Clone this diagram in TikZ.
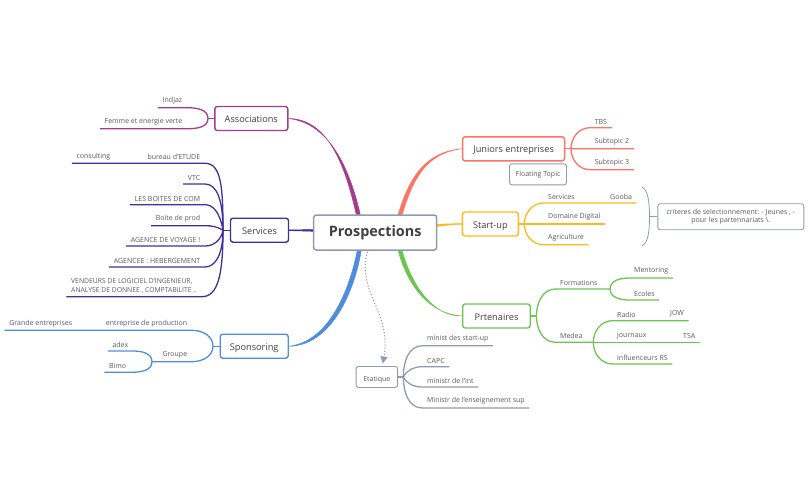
\documentclass[tikz,border=0pt]{standalone}
\usepackage{fontspec}
\setmainfont{Open Sans}
\usetikzlibrary{arrows.meta,backgrounds}
\definecolor{assoccol}{HTML}{A33C8C}
\definecolor{servcol}{HTML}{41309C}
\definecolor{sponscol}{HTML}{4F8DDB}
\definecolor{juncol}{HTML}{FF7264}
\definecolor{startcol}{HTML}{FFB71E}
\definecolor{prtcol}{HTML}{6DC44F}
\definecolor{greycol}{HTML}{8E9BB2}
\definecolor{textcol}{HTML}{5A5A5A}
\tikzset{
    boxed/.style={rectangle,draw,fill=white,rounded corners=2.5,inner sep=0pt},
    topic/.style={boxed,line width=1.4,text height=.95em,text depth=.12em,text=black!75,font=\fontsize{9.2}{11}\selectfont},
    small/.style={boxed,line width=.9,draw=greycol,text=textcol,font=\fontsize{7}{8.5}\selectfont},
    leaf/.style={rectangle,inner xsep=4.6,inner ysep=3.2,text=textcol,font=\fontsize{7}{8.5}\selectfont},
    lleaf/.style={leaf,anchor=south east},
    rleaf/.style={leaf,anchor=south west},
    branch/.style={line width=1.3},
    fan/.style={out looseness=1.6,in looseness=.6},
    taper/.style={line width=.5,line join=round},
    relation/.style={draw=greycol,line width=1.1,dotted,-{Triangle[length=7pt,width=7pt,fill=greycol]}},
    }

\begin{document}
\begin{tikzpicture}[x=1pt,y=-1pt]
	\useasboundingbox (0,0) rectangle (809,501);
	
	\node[topic,draw=greycol,line width=1.5,minimum width=123,minimum height=35,font=\fontsize{14.4}{17}\bfseries] (prosp) at (375.2,232.5) {Prospections};
	
	\node[topic,draw=assoccol,minimum width=73,minimum height=24] (assoc) at (251.3,118.5) {Associations};
	\node[topic,draw=servcol,minimum width=58,minimum height=24] (serv) at (259.5,230.2) {Services};
	\node[topic,draw=sponscol,minimum width=68,minimum height=24] (spons) at (254.2,346.2) {Sponsoring};
	\node[topic,draw=juncol,minimum width=102,minimum height=24] (jun) at (513.6,148.8) {Juniors entreprises};
	\node[topic,draw=startcol,minimum width=56,minimum height=24] (start) at (490.4,224) {Start-up};
	\node[topic,draw=prtcol,minimum width=67.5,minimum height=24] (prt) at (496.5,316) {Prtenaires};
	
	\node[small,minimum width=57,minimum height=21] (floating) at (538,174.3) {Floating Topic};
	\node[small,minimum width=146,minimum height=26,align=center] (crit) at (730.8,216.7) {criteres de selectionnement: - Jeunes , -\\pour les partennariats \textbackslash.};
	\node[small,minimum width=41.5,minimum height=21,text height=.85em,text depth=.05em] (etat) at (376.8,377) {Etatique};
	
	\node[lleaf] (indjaz) at (187,107.7) {Indjaz};
	\node[lleaf] (femme) at (187,128.7) {Femme et energie verte};
	
	\node[lleaf] (etude) at (205,163.3) {bureau d'ETUDE};
	\node[lleaf] (consult) at (115,163.3) {consulting};
	\node[lleaf] (vtc) at (205,184) {VTC};
	\node[lleaf] (boites) at (205,204.7) {LES BOITES DE COM};
	\node[lleaf] (prod) at (205,225.7) {Boite de prod};
	\node[lleaf] (voyage) at (205,246) {AGENCE DE VOYAGE !};
	\node[lleaf] (heberg) at (205,267) {AGENCEE : HEBERGEMENT};
	\node[rleaf,align=left,font=\fontsize{6.8}{8.5}\selectfont] (vendeurs) at (66.4,296.7) {VENDEURS DE LOGICIEL D'INGENIEUR,\\ANALYSE DE DONNEE , COMPTABILITE ..};
	
	\node[lleaf] (product) at (192,330.3) {entreprise de production};
	\node[lleaf] (grande) at (77,330.3) {Grande entreprises};
	\node[lleaf] (groupe) at (192,361.7) {Groupe};
	\node[lleaf] (adex) at (133,351) {adex};
	\node[lleaf] (bimo) at (131,372.3) {Bimo};
	
	\node[rleaf] (tbs) at (590,127.7) {TBS};
	\node[rleaf] (sub2) at (590,148.7) {Subtopic 2};
	\node[rleaf] (sub3) at (590,169.7) {Subtopic 3};
	
	\node[rleaf] (servs) at (543.4,203) {Services};
	\node[rleaf] (gooba) at (605.4,203) {Gooba};
	\node[rleaf] (digital) at (543.4,224) {Domaine Digital};
	\node[rleaf] (agri) at (543.4,244.7) {Agriculture};
	
	\node[rleaf] (form) at (555.4,289) {Formations};
	\node[rleaf] (medea) at (555.4,342.3) {Medea};
	\node[rleaf] (mentor) at (629.4,278) {Mentoring};
	\node[rleaf] (ecoles) at (629.4,300) {Ecoles};
	\node[rleaf] (radio) at (612.4,320.7) {Radio};
	\node[rleaf] (jow) at (665.4,320.7) {JOW};
	\node[rleaf] (journ) at (612.4,342.3) {journaux};
	\node[rleaf] (tsa) at (678.4,342.3) {TSA};
	\node[rleaf] (influ) at (612.4,364) {influenceurs RS};
	
	\node[rleaf] (minist) at (422.4,345.7) {minist des start-up};
	\node[rleaf] (capc) at (422.4,366.7) {CAPC};
	\node[rleaf] (mint) at (422.4,387) {ministr de l'int};
	\node[rleaf] (mens) at (422.4,408) {Ministr de l'enseignement sup};
	
	\coordinate (assochub) at (208,118.5);
	\coordinate (servhub) at (223,230.2);
	\coordinate (sponshub) at (213,346.2);
	\coordinate (grouphub) at (152,361.7);
	\coordinate (junhub) at (571,148.8);
	\coordinate (starthub) at (524.3,224);
	\coordinate (prthub) at (536.4,316);
	\coordinate (formhub) at (610,289);
	\coordinate (medeahub) at (593.3,342.3);
	\coordinate (etathub) at (403.3,377);
	\coordinate (bracetop) at (642,187);
	\coordinate (bracemid) at (649.5,216.7);
	\coordinate (bracebot) at (642,246);
	
	\begin{scope}[on background layer]
	\filldraw[taper,assoccol] ([xshift=-19]prosp.north) .. controls (346,170) and (330,119) .. (assoc.east) .. controls (330,123) and (350,170) .. ([xshift=-15]prosp.north) -- cycle;
	\filldraw[taper,servcol] ([yshift=1.2]prosp.west) -- ([yshift=-.4]serv.east) -- ([yshift=.4]serv.east) -- ([yshift=2.8]prosp.west) -- cycle;
	\filldraw[taper,sponscol] ([xshift=-18]prosp.south) .. controls (349,292) and (328,342) .. (spons.east) .. controls (330,346) and (354,294) .. ([xshift=-14]prosp.south) -- cycle;
	\filldraw[taper,juncol] ([xshift=23]prosp.north) .. controls (409,179) and (424,152) .. (jun.west) .. controls (426,153) and (413,179) .. ([xshift=27]prosp.north) -- cycle;
	\filldraw[taper,startcol] ([yshift=6.2]prosp.east) .. controls (446,225.5) and (452,224.2) .. ([yshift=-.3]start.west) -- ([yshift=.3]start.west) .. controls (452,223.6) and (446,224) .. ([yshift=8.2]prosp.east) -- cycle;
	\filldraw[taper,prtcol] ([xshift=23]prosp.south) .. controls (408,287) and (430,314) .. (prt.west) .. controls (436,317) and (413,290) .. ([xshift=27]prosp.south) -- cycle;
	\end{scope}
	
	\draw[relation] ([xshift=-7.7,yshift=-1]prosp.south) .. controls (356,292) and (392,312) .. ([xshift=6,yshift=2.5]etat.north);
	
	\draw[branch,assoccol] (assoc) to (assochub);
	\draw[branch,assoccol] (assochub) to[out=90,in=0] (indjaz.south east) to (indjaz.south west);
	\draw[branch,assoccol] (assochub) to[out=-90,in=0] (femme.south east) to (femme.south west);
	
	\draw[branch,servcol] (serv) to (servhub);
	\draw[branch,servcol] (servhub) to[fan,out=90,in=0] (etude.south east) to (etude.south west) to (consult.south west);
	\draw[branch,servcol] (servhub) to[fan,out=90,in=0] (vtc.south east) to (vtc.south west);
	\draw[branch,servcol] (servhub) to[fan,out=100,in=0] (boites.south east) to (boites.south west);
	\draw[branch,servcol] (servhub) to[out=150,in=0] (prod.south east) to (prod.south west);
	\draw[branch,servcol] (servhub) to[out=-100,in=0] (voyage.south east) to (voyage.south west);
	\draw[branch,servcol] (servhub) to[fan,out=-90,in=0] (heberg.south east) to (heberg.south west);
	\draw[branch,servcol] (servhub) to[fan,out=-90,in=0] (vendeurs.south east) to (vendeurs.south west);
	
	\draw[branch,sponscol] (spons) to (sponshub);
	\draw[branch,sponscol] (sponshub) to[out=90,in=0] (product.south east) to (product.south west) to (grande.south west);
	\draw[branch,sponscol] (sponshub) to[out=-90,in=0] (groupe.south east) to (grouphub);
	\draw[branch,sponscol] (grouphub) to[out=90,in=0] (adex.south east) to (adex.south west);
	\draw[branch,sponscol] (grouphub) to[out=-90,in=0] (bimo.south east) to (bimo.south west);
	
	\draw[branch,juncol] (jun) to (junhub);
	\draw[branch,juncol] (junhub) to[out=90,in=180] (tbs.south west) to (tbs.south east);
	\draw[branch,juncol] (junhub) to (sub2.south east);
	\draw[branch,juncol] (junhub) to[out=-90,in=180] (sub3.south west) to (sub3.south east);
	
	\draw[branch,startcol] (start) to (starthub);
	\draw[branch,startcol] (starthub) to[out=90,in=180] (servs.south west) to (gooba.south east);
	\draw[branch,startcol] (starthub) to (digital.south east);
	\draw[branch,startcol] (starthub) to[out=-90,in=180] (agri.south west) to (agri.south east);
	
	\draw[branch,prtcol] (prt) to (prthub);
	\draw[branch,prtcol] (prthub) to[out=90,in=180] (form.south west) to (formhub);
	\draw[branch,prtcol] (prthub) to[out=-90,in=180] (medea.south west) to (medeahub);
	\draw[branch,prtcol] (formhub) to[out=90,in=180] (mentor.south west) to (mentor.south east);
	\draw[branch,prtcol] (formhub) to[out=-90,in=180] (ecoles.south west) to (ecoles.south east);
	\draw[branch,prtcol] (medeahub) to[out=90,in=180] (radio.south west) to (jow.south east);
	\draw[branch,prtcol] (medeahub) to (tsa.south east);
	\draw[branch,prtcol] (medeahub) to[out=-90,in=180] (influ.south west) to (influ.south east);
	
	\draw[branch,greycol] (etat) to (etathub);
	\draw[branch,greycol] (etathub) to[out=90,in=180] (minist.south west) to (minist.south east);
	\draw[branch,greycol] (etathub) to[out=60,in=180] (capc.south west) to (capc.south east);
	\draw[branch,greycol] (etathub) to[out=-60,in=180] (mint.south west) to (mint.south east);
	\draw[branch,greycol] (etathub) to[out=-90,in=180] (mens.south west) to (mens.south east);
	
	\draw[line width=.8,greycol] (crit) to (bracemid);
	\draw[line width=.8,greycol] (bracetop) .. controls (648,190) and (649.5,202) .. (bracemid) .. controls (649.5,232) and (648,243) .. (bracebot);
\end{tikzpicture}
\end{document}
